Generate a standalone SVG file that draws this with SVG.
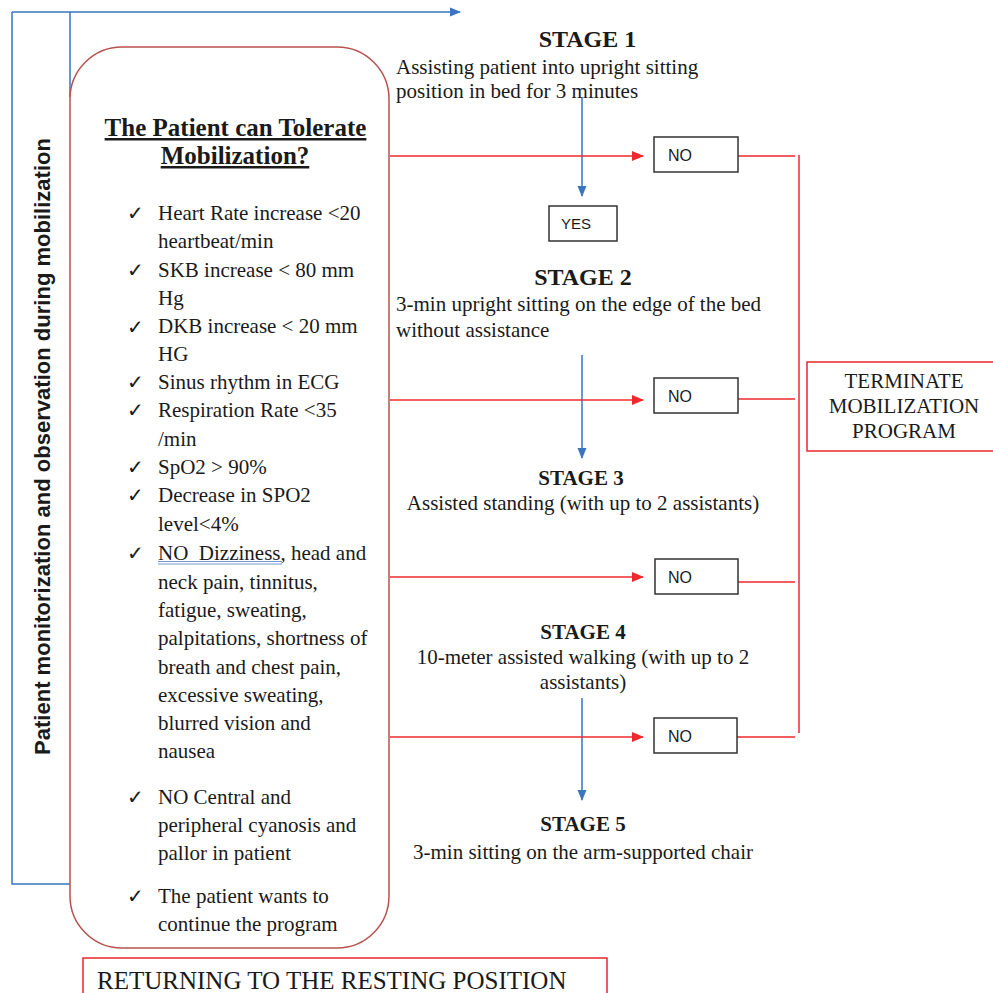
<svg xmlns="http://www.w3.org/2000/svg" width="993" height="993" viewBox="0 0 993 993">
<defs>
<marker id="ab" markerWidth="11" markerHeight="11" refX="10" refY="5.5" orient="auto" markerUnits="userSpaceOnUse"><path d="M0,1 L11,5.5 L0,10 Z" fill="#3a75c0"/></marker>
<marker id="ar" markerWidth="12" markerHeight="12" refX="11" refY="6" orient="auto" markerUnits="userSpaceOnUse"><path d="M0,1 L12,6 L0,11 Z" fill="#f0282d"/></marker>
<style>
.serif{font-family:"Liberation Serif","Times New Roman",serif;fill:#1a1a1a}
.b{font-size:21px}
.t{font-weight:bold}
.sans{font-family:"Liberation Sans",Arial,sans-serif;fill:#1a1a1a}
.ck{font-family:"DejaVu Sans",sans-serif;font-size:20px;fill:#1a1a1a}
.blue{fill:none;stroke:#3a75c0;stroke-width:1.5}
.red{fill:none;stroke:#f0282d;stroke-width:1.5}
.box{fill:#fff;stroke:#333;stroke-width:1.5}
.rbox{fill:#fff;stroke:#e8282d;stroke-width:1.5}
</style>
</defs>
<rect width="993" height="993" fill="#fff"/>

<g id="connectors">
<path class="blue" d="M12,12 H460" marker-end="url(#ab)"/>
<path class="blue" d="M70,97 V12"/>
<path class="blue" d="M12,12 V884 H70"/>
<path class="blue" d="M582,97 V196" marker-end="url(#ab)"/>
<path class="blue" d="M582,355 V458" marker-end="url(#ab)"/>
<path class="blue" d="M582,698 V800" marker-end="url(#ab)"/>
<path class="red" d="M390,156 H643" marker-end="url(#ar)"/>
<path class="red" d="M390,400 H643" marker-end="url(#ar)"/>
<path class="red" d="M390,577 H643" marker-end="url(#ar)"/>
<path class="red" d="M390,737 H643" marker-end="url(#ar)"/>
<path class="red" d="M738,156 H795 M738,399 H795 M738,582 H795 M737,737 H795"/>
<path class="red" d="M799,155 V733"/>
</g>

<g id="side-label">
<text class="sans" font-weight="bold" font-size="22" text-anchor="middle" transform="translate(50,446.5) rotate(-90)" textLength="617" lengthAdjust="spacingAndGlyphs">Patient monitorization and observation during mobilization</text>
</g>

<g id="criteria">
<rect x="70" y="47" width="319" height="901" rx="52" ry="52" fill="#fff" stroke="#b8524f" stroke-width="1.5"/>
<text class="serif t" font-size="25" text-anchor="middle" text-decoration="underline" x="235.5" y="136">The Patient can Tolerate</text>
<text class="serif t" font-size="25" text-anchor="middle" text-decoration="underline" x="235" y="164">Mobilization?</text>
<g class="ck">
<text x="127" y="220">✓</text>
<text x="127" y="277">✓</text>
<text x="127" y="334">✓</text>
<text x="127" y="389">✓</text>
<text x="127" y="417">✓</text>
<text x="127" y="474">✓</text>
<text x="127" y="502">✓</text>
<text x="127" y="560">✓</text>
<text x="127" y="804">✓</text>
<text x="127" y="903">✓</text>
</g>
<g class="serif b">
<text x="158" y="220">Heart Rate increase &lt;20</text>
<text x="158" y="248">heartbeat/min</text>
<text x="158" y="277">SKB increase &lt; 80 mm</text>
<text x="158" y="305">Hg</text>
<text x="158" y="333">DKB increase &lt; 20 mm</text>
<text x="158" y="361">HG</text>
<text x="158" y="389">Sinus rhythm in ECG</text>
<text x="158" y="417">Respiration Rate &lt;35</text>
<text x="158" y="446">/min</text>
<text x="158" y="474">SpO2 &gt; 90%</text>
<text x="158" y="502">Decrease in SPO2</text>
<text x="158" y="531">level&lt;4%</text>
<text x="158" y="560" xml:space="preserve">NO  Dizziness, head and</text>
<text x="158" y="589">neck pain, tinnitus,</text>
<text x="158" y="617">fatigue, sweating,</text>
<text x="158" y="645">palpitations, shortness of</text>
<text x="158" y="674">breath and chest pain,</text>
<text x="158" y="702">excessive sweating,</text>
<text x="158" y="730">blurred vision and</text>
<text x="158" y="758">nausea</text>
<text x="158" y="804">NO Central and</text>
<text x="158" y="832">peripheral cyanosis and</text>
<text x="158" y="860">pallor in patient</text>
<text x="158" y="903">The patient wants to</text>
<text x="158" y="931">continue the program</text>
</g>
<path d="M158,561.5 H282 M158,564 H282" stroke="#4a7ebb" stroke-width="0.8" fill="none"/>
</g>

<g id="stage1">
<text class="serif t" font-size="24" text-anchor="middle" x="587.5" y="47">STAGE 1</text>
<text class="serif b" x="396" y="74">Assisting patient into upright sitting</text>
<text class="serif b" x="396" y="98">position in bed for 3 minutes</text>
</g>
<g id="yes">
<rect class="box" x="549" y="206" width="68" height="35"/>
<text class="sans" font-size="15" x="561" y="229">YES</text>
</g>
<g id="stage2">
<text class="serif t" font-size="24" text-anchor="middle" x="583" y="285">STAGE 2</text>
<text class="serif b" x="396" y="311">3-min upright sitting on the edge of the bed</text>
<text class="serif b" x="396" y="337">without assistance</text>
</g>
<g id="stage3">
<text class="serif t" font-size="21" text-anchor="middle" x="581" y="485">STAGE 3</text>
<text class="serif b" text-anchor="middle" x="583" y="510">Assisted standing (with up to 2 assistants)</text>
</g>
<g id="stage4">
<text class="serif t" font-size="21" text-anchor="middle" x="583" y="639">STAGE 4</text>
<text class="serif b" text-anchor="middle" x="583" y="664">10-meter assisted walking (with up to 2</text>
<text class="serif b" text-anchor="middle" x="583" y="689">assistants)</text>
</g>
<g id="stage5">
<text class="serif t" font-size="21" text-anchor="middle" x="583" y="831">STAGE 5</text>
<text class="serif b" text-anchor="middle" x="583" y="859">3-min sitting on the arm-supported chair</text>
</g>

<g id="no1"><rect class="box" x="654" y="137" width="84" height="35"/><text class="sans" font-size="16" x="668" y="161">NO</text></g>
<g id="no2"><rect class="box" x="654" y="378" width="84" height="35"/><text class="sans" font-size="16" x="668" y="402">NO</text></g>
<g id="no3"><rect class="box" x="655" y="559" width="83" height="35"/><text class="sans" font-size="16" x="668" y="583">NO</text></g>
<g id="no4"><rect class="box" x="654" y="718" width="83" height="35"/><text class="sans" font-size="16" x="668" y="742">NO</text></g>

<g id="terminate">
<rect class="rbox" x="807" y="362" width="190" height="89"/>
<text class="serif b" text-anchor="middle" x="904" y="388">TERMINATE</text>
<text class="serif b" text-anchor="middle" x="904" y="413">MOBILIZATION</text>
<text class="serif b" text-anchor="middle" x="904" y="438">PROGRAM</text>
</g>

<g id="returning">
<rect class="rbox" x="83" y="958" width="524" height="50"/>
<text class="serif" font-size="25" x="97" y="989">RETURNING TO THE RESTING POSITION</text>
</g>
</svg>
